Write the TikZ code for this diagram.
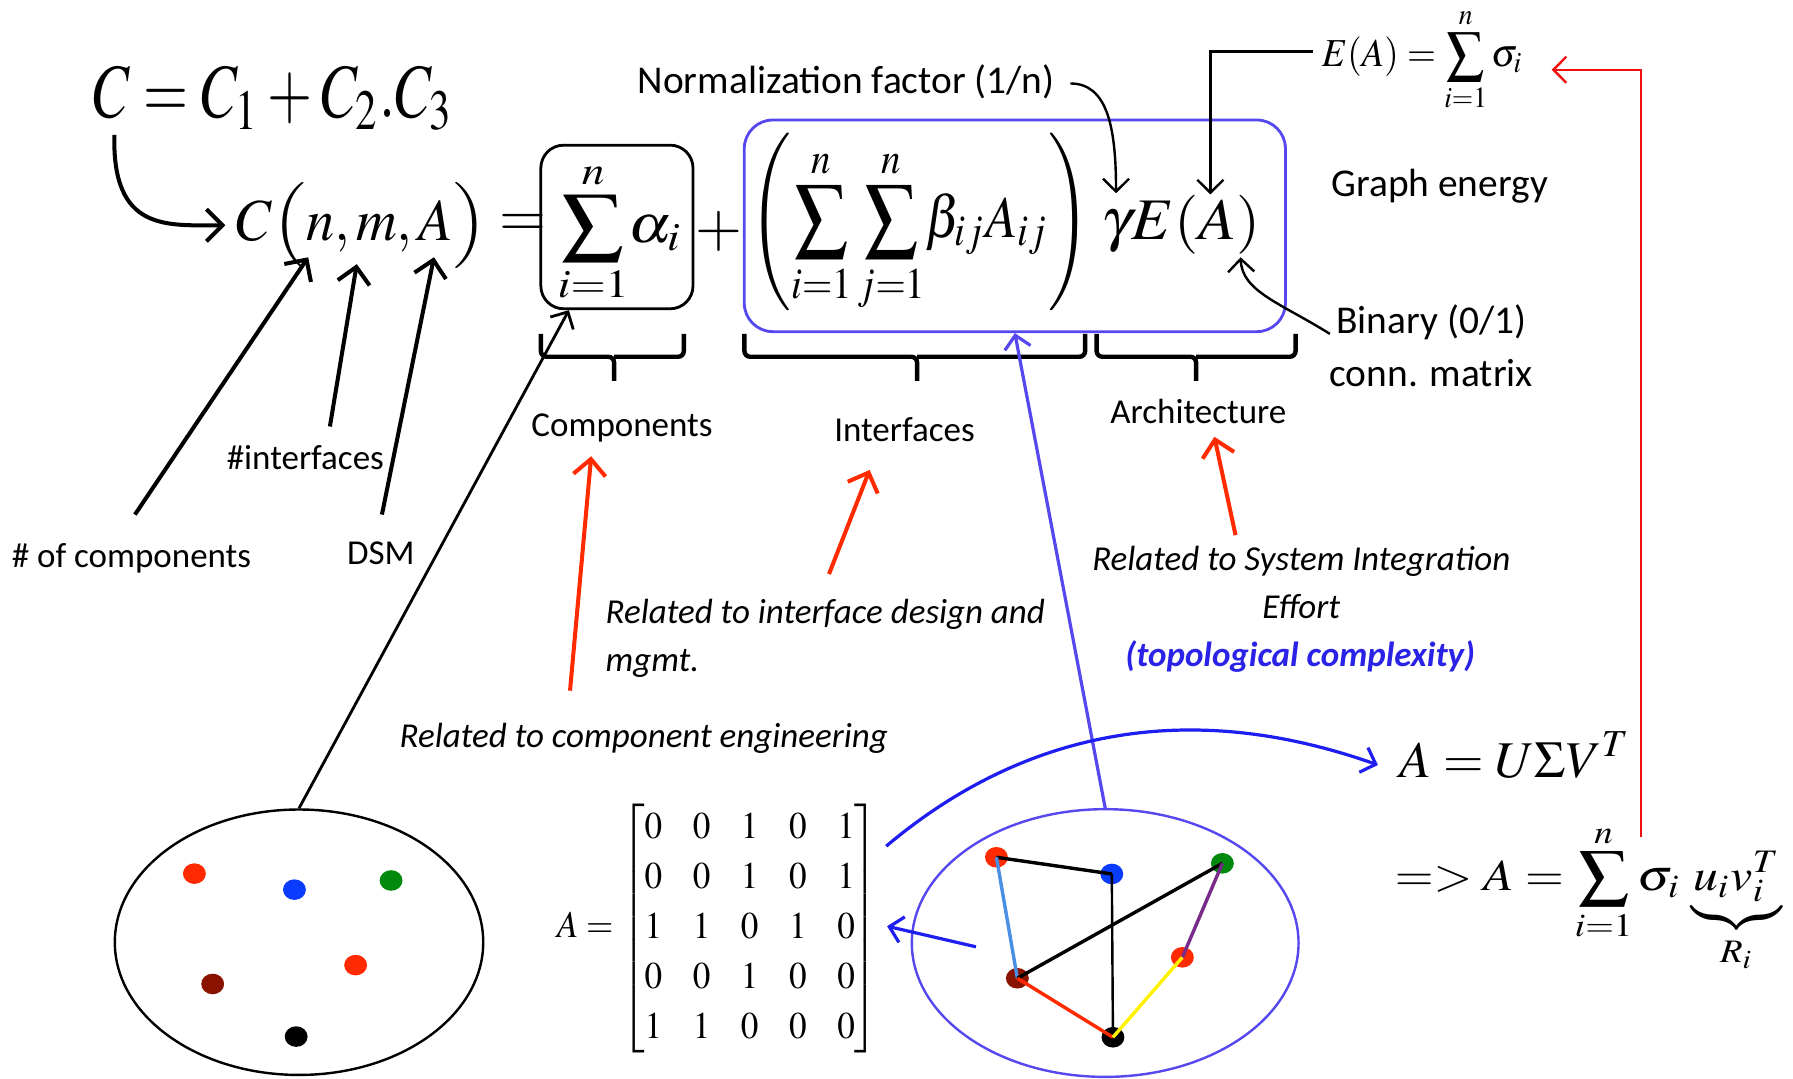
\documentclass[tikz,border=0pt]{standalone}
\usepackage{amsmath}
\usepackage{graphicx}
\usepackage{mathptmx}
\usepackage[no-math]{fontspec}
\setmainfont{Carlito}
\usetikzlibrary{arrows.meta, shapes.geometric, calc}
\definecolor{hotred}{HTML}{FF2A00}
\definecolor{pathred}{HTML}{F01010}
\definecolor{boxblue}{HTML}{5448EE}
\definecolor{curveblue}{HTML}{1E1EF0}
\definecolor{topoblue}{HTML}{2A22E6}
\definecolor{dotred}{HTML}{FF2A00}
\definecolor{dotblue}{HTML}{0A3CFF}
\definecolor{dotgreen}{HTML}{00890C}
\definecolor{dotmaroon}{HTML}{8A1300}
\definecolor{edgesky}{HTML}{4A8FE6}
\definecolor{edgeplum}{HTML}{772A88}
\definecolor{edgeyellow}{HTML}{FFF200}
\newcommand{\lblsize}{\fontsize{8.7}{11}\selectfont}
\newcommand{\bigsize}{\fontsize{9.8}{13}\selectfont}
% a math piece squeezed into the box it takes in the figure
\newcommand{\fitmath}[3]{\resizebox*{#1}{#2}{$\displaystyle #3$}}
\newcommand{\midparen}[1]{\vcenter{\hbox{\scalebox{1}[0.8]{$#1$}}}}
\tikzset{
  lbl/.style={font=\lblsize, inner sep=0pt},
  biglbl/.style={font=\bigsize, inner sep=0pt},
  note/.style={font=\lblsize\itshape, inner sep=0pt},
  eqn/.style={inner sep=0pt},
  arr/.style={-{Straight Barb[length=4pt,width=8pt]}, line width=1pt, #1},
  arr/.default=black,
  thinarr/.style={-{Straight Barb[length=3.2pt,width=6.5pt]}, line width=0.6pt, #1},
  thinarr/.default=black,
  brc/.style={line width=1.1pt, rounded corners=0.05cm},
  blob/.style={ellipse, minimum width=0.2cm, minimum height=0.18cm, inner sep=0pt, fill=#1},
  link/.style={line width=0.85pt, #1},
}

\begin{document}
\begin{tikzpicture}[x=0.01cm, y=-0.01cm]
  \useasboundingbox (0,0) rectangle (1568,943);

  % formulas along the top
  \node[eqn] (ctop) at (239.5,86) {\fitmath{3.15cm}{0.56cm}{C=C_1+C_2.C_3}};
  \node[eqn] (etop) at (1244,52.5) {\fitmath{1.76cm}{0.91cm}{E(A)=\sum_{i=1}^{n}\sigma_i}};

  \node[eqn] (cnma) at (316.3,197)
    {\fitmath{2.19cm}{0.75cm}{C\mathopen{\midparen{\Bigl(}}n,m,A\mathclose{\midparen{\Bigr)}}}};
  \node[eqn, font=\fontsize{15}{15}\selectfont] (eqsign) at (457,197.5) {$=$};
  \node[draw, line width=0.7pt, rounded corners=0.2cm, minimum width=1.33cm,
        minimum height=1.43cm] (alphabox) at (539.5,198.5) {};
  \node[eqn] (alphasum) at (542.5,203.6) {\fitmath{1.09cm}{1.24cm}{\sum_{i=1}^{n}\!\alpha_i}};
  \node[eqn, font=\fontsize{15}{15}\selectfont] (plus) at (629,202) {$+$};
  \node[eqn] (ifterm) at (804.7,195.3)
    {\fitmath{2.98cm}{1.57cm}{\Biggl(\sum_{i=1}^{n}\sum_{j=1}^{n}\!\beta_{ij}A_{ij}\Biggr)}};
  \node[eqn] (gammae) at (1032.5,196.8) {\fitmath{1.39cm}{0.515cm}{\gamma E(A)}};
  \node[draw=boxblue, line width=0.7pt, rounded corners=0.25cm,
        minimum width=4.73cm, minimum height=1.85cm] (ifbox) at (887.5,197.5) {};

  % braces under the terms
  \draw[brc] (473,292) |- (537,312) -- (537,333) (598,292) |- (537,312);
  \draw[brc] (651,292) |- (802,312) -- (802,333) (949,292) |- (802,312);
  \draw[brc] (959,292) |- (1046,312) -- (1046,333) (1133,292) |- (1046,312);

  % labels
  \node[biglbl, anchor=base] (normf) at (740,82) {Normalization factor (1/n)};
  \node[biglbl, anchor=base] (genergy) at (1259,172) {Graph energy};
  \node[biglbl, anchor=base west] (binary) at (1168,292) {Binary (0/1)};
  \node[biglbl, anchor=base west] (connm) at (1162,338) {conn. matrix};
  \node[lbl, anchor=base] (comps) at (544,382) {Components};
  \node[lbl, anchor=base] (ifaces) at (791,386) {Interfaces};
  \node[lbl, anchor=base] (archi) at (1048,370) {Architecture};
  \node[lbl, anchor=base] (ncomp) at (115,496) {\# of components};
  \node[lbl, anchor=base] (nif) at (267,411) {\#interfaces};
  \node[lbl, anchor=base] (dsm) at (333,494) {DSM};

  \node[note, anchor=base] (rcomp) at (563,654) {Related to component engineering};
  \node[note, anchor=base west] (rif1) at (529,545) {Related to interface design and};
  \node[note, anchor=base west] (rif2) at (529,587) {mgmt.};
  \node[note, anchor=base] (rsys1) at (1138,499) {Related to System Integration};
  \node[note, anchor=base] (rsys2) at (1138,541) {Effort};
  \node[note, anchor=base, font=\lblsize\bfseries\itshape, text=topoblue] (rsys3) at (1137,583)
    {(topological complexity)};

  % components, DSM and graph
  \node[ellipse, draw, line width=0.6pt, minimum width=3.22cm, minimum height=2.32cm,
        inner sep=0pt] (parts) at (261.5,824) {};
  \node[blob=dotred] (p1) at (170,764) {};
  \node[blob=dotblue] (p2) at (257.5,778) {};
  \node[blob=dotgreen] (p3) at (342,770) {};
  \node[blob=dotmaroon] (p4) at (186,860.5) {};
  \node[blob=dotred] (p5) at (311,844) {};
  \node[blob=black] (p6) at (259,906.5) {};

  \node[eqn] (amat) at (627.5,812)
    {\setlength\arraycolsep{4.35pt}\renewcommand\arraystretch{1.1}%
     \fitmath{2.81cm}{2.18cm}{A=\left[\begin{matrix}0&0&1&0&1\\0&0&1&0&1\\1&1&0&1&0\\0&0&1&0&0\\1&1&0&0&0\end{matrix}\right]}};

  \node[ellipse, draw=boxblue, line width=0.6pt, minimum width=3.38cm, minimum height=2.34cm,
        inner sep=0pt] (graph) at (966.5,824.7) {};
  \node[blob=dotred] (g1) at (871.4,749.7) {};
  \node[blob=dotblue] (g2) at (972.3,764.3) {};
  \node[blob=dotgreen] (g3) at (1069,755) {};
  \node[blob=dotred] (g4) at (1034,837.2) {};
  \node[blob=dotmaroon] (g5) at (889.7,855.5) {};
  \node[blob=black] (g6) at (973.3,907.1) {};
  \draw[link=black] (g1.center) -- (g2.center);
  \draw[link=edgesky] (g1.center) -- (g5.center);
  \draw[link=black, line width=0.6pt] (g2.center) -- (g6.center);
  \draw[link=black] (g3.center) -- (g5.center);
  \draw[link=edgeplum] (g3.center) -- (g4.center);
  \draw[link=hotred] (g5.center) -- (g6.center);
  \draw[link=edgeyellow] (g4.center) -- (g6.center);

  \node[eqn] (svd) at (1325,660.5) {\fitmath{2.02cm}{0.41cm}{A=U\Sigma V^{T}}};
  \node[eqn] (rank) at (1389,786)
    {\fitmath{3.38cm}{1.30cm}{=> A=\sum_{i=1}^{n}\sigma_i\,\underbrace{u_i v_i^{T}}_{R_i}}};

  % connector ends
  \coordinate (cstart) at (100,118);
  \coordinate (nftail) at (936,73);
  \coordinate (gtip) at (976,169);
  \coordinate (etail) at (1148,45);
  \coordinate (etip) at (1058.5,170);
  \coordinate (btail) at (1163,292);
  \coordinate (atip) at (1085,225);
  \coordinate (rtail) at (1435,732);
  \coordinate (rtip) at (1357,61);
  \coordinate (nctail) at (118,450);
  \coordinate (nctip) at (269.5,225);
  \coordinate (nitail) at (288.5,373);
  \coordinate (nitip) at (312,231);
  \coordinate (dtail) at (334,450);
  \coordinate (dtip) at (379.5,225);
  \coordinate (ctail) at (498.5,604);
  \coordinate (ctip) at (517,399);
  \coordinate (itail) at (725,502);
  \coordinate (itip) at (760.5,411);
  \coordinate (atail) at (1080.5,468);
  \coordinate (artip) at (1062,382);
  \coordinate (mtail) at (775,740);
  \coordinate (svdtip) at (1205,669);
  \coordinate (gtail) at (853.5,828);

  % arrows
  \draw[arr, shorten >=0.09cm] (cstart) .. controls +(-2,85) and +(-60,0) .. (cnma.west);
  \draw[thinarr] (nftail) .. controls +(32,0) and +(0,-59) .. (gtip);
  \draw[thinarr] (etail) -| (etip);
  \draw[thinarr] (btail) .. controls +(-43,-27) and +(1,30) .. (atip);
  \draw[thinarr=pathred] (rtail) |- (rtip);
  \draw[arr] (nctail) -- (nctip);
  \draw[arr] (nitail) -- (nitip);
  \draw[arr] (dtail) -- (dtip);
  \draw[thinarr, line width=0.7pt] (parts.north) -- (alphabox.240);
  \draw[thinarr=boxblue, line width=0.8pt] (graph.north) -- (ifbox.south);
  \draw[arr=hotred] (ctail) -- (ctip);
  \draw[arr=hotred] (itail) -- (itip);
  \draw[arr=hotred] (atail) -- (artip);
  \draw[thinarr=curveblue, line width=0.8pt] (mtail) .. controls (870,660) and (1010,600) .. (svdtip);
  \draw[thinarr=curveblue, line width=0.8pt] (gtail) -- ($(amat.east)+(7,-2)$);
\end{tikzpicture}
\end{document}
